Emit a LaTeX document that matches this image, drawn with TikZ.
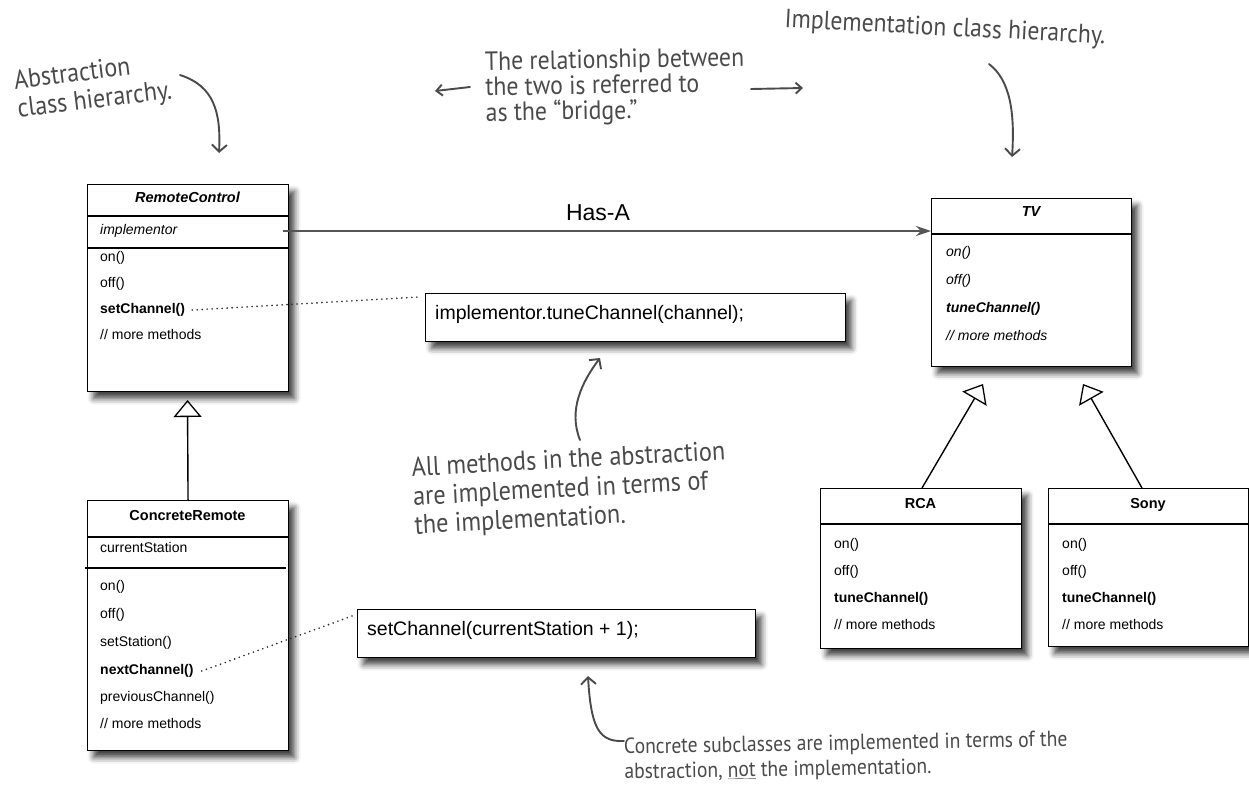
\documentclass[tikz,border=0pt]{standalone}
\usepackage{fontspec}
\setmainfont{Liberation Sans}
\newfontfamily\hand[FakeStretch=0.9]{PT Sans}
\usetikzlibrary{arrows.meta,shadows.blur}
\definecolor{ink}{HTML}{4A4A4A}
\definecolor{hasacol}{HTML}{555555}
\begin{document}
\begin{tikzpicture}[x=1pt,y=-1pt,
  umlbox/.style={draw=black,line width=1.1pt,fill=white,rectangle,inner sep=0pt,anchor=north west,
    blur shadow={shadow xshift=6pt,shadow yshift=-7pt,shadow blur radius=6pt,shadow opacity=75}},
  sep/.style={draw=black,line width=1.1pt},
  ttl/.style={inner sep=0pt,anchor=mid,font=\fontsize{14.5}{16}\selectfont\bfseries},
  row/.style={inner sep=0pt,anchor=mid west,font=\fontsize{14}{16}\selectfont},
  code/.style={inner sep=0pt,anchor=mid west,font=\fontsize{19.5}{22}\selectfont},
  gen/.style={draw=black,line width=1.4pt,-{Triangle[open,length=17pt,width=28pt,line width=1.3pt]}},
  dots/.style={draw=black!85,line width=1.8pt,line cap=round,dash pattern=on 0pt off 5pt},
  hasa/.style={draw=hasacol,line width=1.7pt,-{Stealth[length=15pt,width=10pt]}},
  handtxt/.style={inner sep=0pt,text=ink,align=left},
  handarr/.style={draw=ink,line width=1.9pt,line cap=round,line join=round,-{Straight Barb[length=7pt,width=15pt,line width=1.9pt]}}
]
\useasboundingbox (0,0) rectangle (1249,785);

% ---------- RemoteControl ----------
\node[umlbox,minimum width=201pt,minimum height=207pt] (rc) at (87,184) {};
\draw[sep] ([yshift=-32pt]rc.north west) -- ([yshift=-32pt]rc.north east);
\draw[sep] ([yshift=-64pt]rc.north west) -- ([yshift=-64pt]rc.north east);
\node[ttl] (rct) at (187.5,200) {\itshape RemoteControl};
\node[row] (rca) at (100,232) {\itshape implementor};
\node[row] (rm1) at (100,259) {on()};
\node[row] (rm2) at (100,285) {off()};
\node[row] (rm3) at (100,311) {\bfseries setChannel()};
\node[row] (rm4) at (100,337) {// more methods};

% ---------- ConcreteRemote ----------
\node[umlbox,minimum width=201pt,minimum height=250pt] (cr) at (87,500) {};
\draw[sep] ([yshift=-37pt]cr.north west) -- ([yshift=-37pt]cr.north east);
\draw[sep] ([yshift=-68pt,xshift=-2pt]cr.north west) -- ([yshift=-68pt,xshift=-3pt]cr.north east);
\node[ttl] (crt) at (187.5,518) {ConcreteRemote};
\node[row] (cra) at (100,550) {currentStation};
\node[row] (cm1) at (100,588) {on()};
\node[row] (cm2) at (100,616) {off()};
\node[row] (cm3) at (100,644) {setStation()};
\node[row] (cm4) at (100,672) {\bfseries nextChannel()};
\node[row] (cm5) at (100,699) {previousChannel()};
\node[row] (cm6) at (100,726) {// more methods};

% ---------- TV ----------
\node[umlbox,minimum width=200pt,minimum height=168pt] (tv) at (931,198) {};
\draw[sep] ([yshift=-36pt]tv.north west) -- ([yshift=-36pt]tv.north east);
\node[ttl] (tvt) at (1031,214) {\itshape TV};
\node[row] (tm1) at (946,254) {\itshape on()};
\node[row] (tm2) at (946,282) {\itshape off()};
\node[row] (tm3) at (946,310) {\bfseries\itshape tuneChannel()};
\node[row] (tm4) at (946,338) {\itshape // more methods};

% ---------- RCA ----------
\node[umlbox,minimum width=201pt,minimum height=160pt] (rcab) at (820,488) {};
\draw[sep] ([yshift=-36pt]rcab.north west) -- ([yshift=-36pt]rcab.north east);
\node[ttl] (rcat) at (920.5,506) {RCA};
\node[row] (am1) at (834,546) {on()};
\node[row] (am2) at (834,573) {off()};
\node[row] (am3) at (834,600) {\bfseries tuneChannel()};
\node[row] (am4) at (834,627) {// more methods};

% ---------- Sony ----------
\node[umlbox,minimum width=200pt,minimum height=158pt] (sony) at (1048,488) {};
\draw[sep] ([yshift=-36pt]sony.north west) -- ([yshift=-36pt]sony.north east);
\node[ttl] (sonyt) at (1148,506) {Sony};
\node[row] (sm1) at (1062,546) {on()};
\node[row] (sm2) at (1062,573) {off()};
\node[row] (sm3) at (1062,600) {\bfseries tuneChannel()};
\node[row] (sm4) at (1062,627) {// more methods};

% ---------- code notes ----------
\node[umlbox,minimum width=420pt,minimum height=48pt] (impl) at (425,293) {};
\node[code] (implt) at (435,317) {implementor.tuneChannel(channel);};
\node[umlbox,minimum width=398pt,minimum height=48pt] (setc) at (357,609) {};
\node[code] (setct) at (367,633) {setChannel(currentStation + 1);};

% ---------- connectors ----------
\coordinate (hasaS) at (283,231);
\coordinate (hasaE) at (931,231);
\draw[hasa] (hasaS) -- (hasaE);
\node[inner sep=0pt,font=\fontsize{23}{26}\selectfont] (hasalbl) at (598,213) {Has-A};

\coordinate (rctip) at (187.5,400);
\draw[gen] (cr.north) -- (rctip);
\coordinate (tvtipL) at (983,384);
\coordinate (tvtipR) at (1083,384);
\draw[gen] ([xshift=102pt]rcab.north west) -- (tvtipL);
\draw[gen] ([xshift=94pt]sony.north west) -- (tvtipR);

\coordinate (d1e) at (419,297);
\draw[dots] ([xshift=7pt]rm3.east) -- (d1e);
\coordinate (d2e) at (352,616);
\draw[dots] ([xshift=8pt]cm4.east) -- (d2e);

% ---------- handwritten annotations ----------
\node[handtxt,rotate=7,font=\hand\fontsize{26.7}{28.5}\selectfont] (absn) at (93,87) {Abstraction\\class hierarchy.};
\coordinate (a1s) at (180,75);
\coordinate (a1e) at (219,153);
\draw[handarr] (a1s) .. controls (214,86) and (221,112) .. (a1e);

\node[handtxt,rotate=1,font=\hand\fontsize{26.4}{25.5}\selectfont] (bridgen) at (615,87) {The relationship between\\the two is referred to\\as the “bridge.”};
\coordinate (b1s) at (470,87);
\coordinate (b1e) at (435,91);
\draw[handarr,-{Straight Barb[length=6pt,width=11pt,line width=1.9pt]}] (b1s) -- (b1e);
\coordinate (b2s) at (751,89);
\coordinate (b2e) at (803,88);
\draw[handarr,-{Straight Barb[length=6pt,width=11pt,line width=1.9pt]}] (b2s) -- (b2e);

\node[handtxt,rotate=-3,font=\hand\fontsize{26.3}{30}\selectfont] (impln) at (945,29) {Implementation class hierarchy.};
\coordinate (a2s) at (989,64);
\coordinate (a2e) at (1012,157);
\draw[handarr] (a2s) .. controls (1010,80) and (1015,112) .. (a2e);

\node[handtxt,rotate=3,font=\hand\fontsize{27}{29}\selectfont] (alln) at (570,490) {All methods in the abstraction\\are implemented in terms of\\the implementation.};
\coordinate (a5s) at (580,440);
\coordinate (a5e) at (600,358);
\draw[handarr] (a5s) .. controls (568,410) and (582,382) .. (a5e);

\node[handtxt,rotate=1,font=\hand\fontsize{21.8}{25}\selectfont] (concn) at (846,757) {Concrete subclasses are implemented in terms of the\\abstraction, \underline{not} the implementation.};
\coordinate (a6s) at (624,741);
\coordinate (a6e) at (588,676);
\draw[handarr] (a6s) .. controls (600,742) and (591,730) .. (a6e);
\end{tikzpicture}
\end{document}
